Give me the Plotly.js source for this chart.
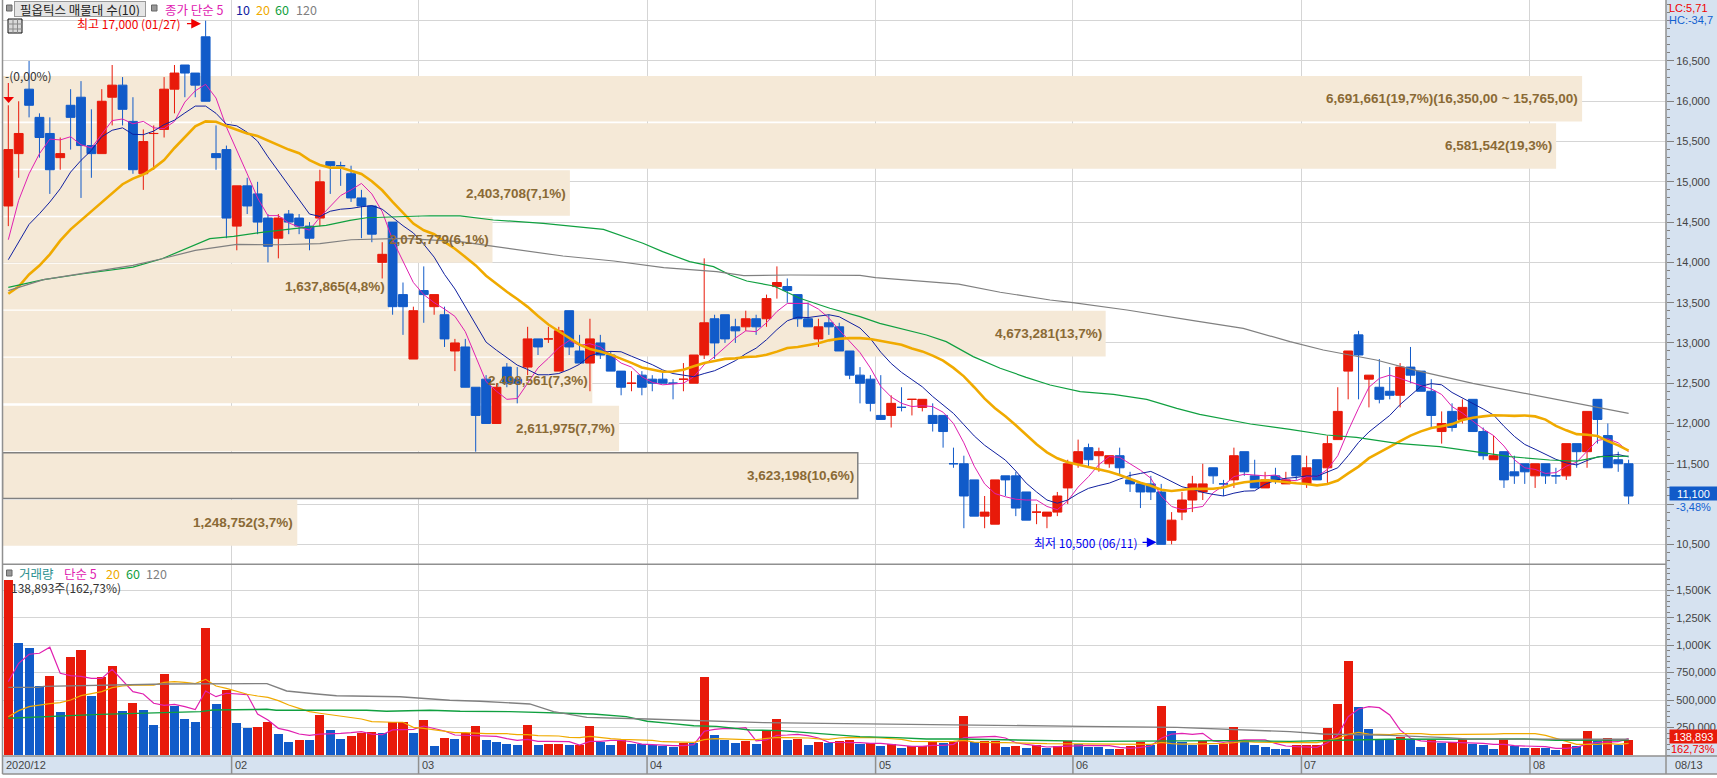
<!DOCTYPE html>
<html><head><meta charset="utf-8">
<script src="https://cdn.plot.ly/plotly-3.0.1.min.js"></script>
<style>html,body{margin:0;padding:0;background:#fff}#c{width:1717px;height:778px}</style>
</head><body><div id="c"></div>
<script>
const open_=[14700,15350,16150,15800,15600,15300,15950,16050,15450,15350,16050,16200,15750,15100,15599,15650,16150,16450,16350,16800,15350,15400,14450,14950,14850,14550,14300,14600,14550,14450,14550,15250,15201,15100,14800,14700,14000,14500,13600,12800,13650,13450,13350,12900,12950,12450,12550,12000,12700,12550,12700,13050,13049,12650,13400,12900,12750,13000,12850,12650,12499,12600,12550,12550,12501,12549,12500,12850,13300,13350,13200,13200,13300,13300,13700,13700,13600,13300,13050,13250,13200,12900,12600,12550,12100,12100,12201,12299,12200,12100,12100,11501,11500,11300,10850,10750,11350,11350,11150,10899,10850,10900,11200,11500,11700,11600,11500,11600,11300,11250,11250,11150,10550,10900,11050,11150,11450,11251,11300,11650,11350,11200,11350,11250,11600,11250,11550,11450,11800,12650,13100,12550,12450,12400,12350,12700,12650,12400,11900,12150,12050,12300,11900,11550,11650,11400,11500,11350,11500,11351,11350,11750,11650,12300,11850,11550,11500];
const high_=[15950,16000,16500,15850,15800,15550,16150,16250,15900,16150,16450,16300,16050,15650,15700,16300,16450,16450,16350,17000,15700,15450,14950,15050,15000,14600,14600,14650,14600,14500,15150,15250,15250,15200,14900,14700,14250,14500,13750,13450,13950,13600,13450,13050,13050,12450,12600,12500,12750,12700,13200,13050,13200,13200,13400,13100,13300,13100,12900,12650,12650,12650,12600,12650,12550,12750,12850,14050,13350,13350,13300,13400,13350,13600,13950,13800,13600,13500,13300,13350,13250,12900,12700,12600,12600,12350,12450,12300,12300,12250,12100,11700,11600,11300,11100,11300,11350,11400,11150,11000,10900,11150,11550,11800,11750,11700,11600,11700,11400,11250,11350,11250,10900,11150,11350,11500,11450,11300,11700,11650,11550,11400,11450,11400,11600,11600,11550,11850,12450,12900,13150,12600,12800,12700,12750,12950,12650,12550,12150,12250,12300,12300,11950,11850,11650,11600,11500,11500,11500,11450,11750,11750,12150,12300,12000,11650,11550];
const low_=[14450,15050,15800,15300,14850,15150,15400,14800,15050,15350,15700,15700,15100,14900,15150,15550,15850,16050,16050,16000,15150,14300,14150,14600,14350,14000,14050,14350,14350,14150,14450,14850,14950,14750,14300,14250,13800,13350,13100,12800,13250,13350,12950,12650,12450,11650,12000,12000,12450,12250,12600,12850,13000,12650,12850,12750,12400,12800,12650,12350,12400,12350,12400,12500,12300,12400,12500,12800,12800,13000,13000,13150,13100,13200,13550,13500,13200,13200,12950,13100,12900,12550,12250,12150,12050,11950,12150,12100,12150,11900,11700,11450,10700,10850,10700,10750,11100,10850,10800,10750,10700,10850,11000,11450,11450,11400,11450,11350,11150,10950,11050,10500,10500,10800,10900,11050,11250,11100,11200,11350,11200,11200,11250,11250,11300,11200,11300,11250,11800,12300,12300,12200,12250,12300,12200,12500,12400,11950,11750,11900,12000,11900,11550,11550,11200,11250,11250,11200,11250,11250,11300,11450,11450,11750,11450,11400,11000];
const close_=[15400,15600,15950,15550,15150,15350,15800,15450,15350,16000,16200,15900,15150,15500,15600,16150,16350,16350,16200,16000,15300,14550,14950,14700,14500,14200,14550,14500,14450,14300,15000,15200,15200,14800,14700,14350,14100,13450,13450,13400,13600,13600,13050,13000,12450,12100,12000,12450,12500,12500,13050,12950,13050,13150,12950,12750,13050,12850,12650,12450,12500,12450,12500,12500,12500,12550,12850,13250,13000,13050,13150,13300,13200,13550,13750,13650,13300,13200,13200,13200,12900,12600,12500,12250,12050,12250,12200,12300,12300,12000,11900,11500,11100,10850,10900,11300,11300,10950,10800,10900,10900,11100,11500,11650,11550,11650,11600,11450,11250,11150,11150,10500,10800,11050,11250,11250,11350,11250,11600,11400,11200,11300,11300,11300,11350,11450,11300,11750,12150,12900,12850,12600,12300,12350,12700,12600,12400,12100,12000,11950,12200,11900,11600,11600,11300,11350,11400,11500,11350,11350,11750,11650,12150,12050,11450,11500,11100];
const ma5=[14281,14770,15100,15349,15530,15520,15560,15460,15420,15590,15760,15780,15720,15750,15670,15660,15750,15990,16130,16210,16040,15680,15400,15100,14800,14580,14580,14490,14440,14400,14560,14690,14830,14900,14980,14850,14630,14280,14010,13750,13600,13500,13420,13330,13140,12840,12520,12400,12300,12310,12500,12690,12810,12940,13030,12970,12990,12950,12850,12750,12700,12580,12510,12480,12490,12500,12580,12730,12830,12940,13060,13150,13140,13250,13390,13490,13490,13490,13420,13310,13160,13020,12880,12690,12460,12330,12250,12210,12220,12210,12140,12000,11760,11470,11250,11130,11090,11060,11050,11050,10970,10930,11040,11210,11340,11490,11590,11580,11500,11420,11320,11100,10970,10930,10950,10970,11140,11230,11340,11370,11360,11350,11360,11300,11290,11340,11340,11430,11600,11910,12190,12450,12560,12600,12560,12510,12470,12430,12360,12210,12130,12030,11930,11850,11720,11550,11450,11430,11380,11390,11470,11520,11650,11790,11810,11760,11650];
const ma10=[14033,14252,14472,14604,14749,14914,15121,15266,15390,15560,15640,15670,15590,15585,15630,15710,15765,15855,15940,15940,15850,15715,15695,15615,15505,15310,15130,14945,14770,14600,14570,14635,14660,14670,14690,14705,14660,14555,14455,14365,14225,14065,13850,13670,13445,13220,13010,12910,12815,12725,12670,12605,12605,12620,12670,12735,12840,12880,12895,12890,12835,12785,12730,12665,12620,12600,12580,12620,12655,12715,12780,12865,12935,13040,13165,13275,13320,13315,13335,13350,13325,13255,13185,13055,12885,12745,12635,12545,12455,12335,12235,12125,11985,11845,11730,11635,11545,11410,11260,11150,11050,11010,11050,11130,11195,11230,11260,11310,11355,11380,11405,11345,11275,11215,11185,11145,11120,11100,11135,11160,11165,11245,11295,11320,11330,11350,11345,11395,11450,11600,11765,11895,11995,12100,12235,12350,12460,12495,12480,12385,12320,12250,12180,12105,11965,11840,11740,11680,11615,11555,11510,11485,11540,11585,11600,11615,11585];
const ma20=[13610,13700,13850,13960,14100,14270,14410,14520,14640,14740,14850,14970,15040,15090,15170,15270,15420,15560,15690,15750,15745,15692,15642,15600,15568,15510,15448,15400,15355,15270,15210,15175,15178,15142,15098,15008,14895,14750,14612,14482,14398,14350,14255,14170,14068,13962,13835,13732,13635,13545,13448,13335,13228,13145,13058,12978,12925,12895,12855,12808,12752,12695,12668,12642,12645,12668,12710,12750,12775,12802,12808,12825,12832,12852,12892,12938,12950,12968,12995,13032,13052,13060,13060,13048,13025,13010,12978,12930,12895,12842,12780,12690,12585,12450,12308,12190,12090,11978,11858,11742,11642,11568,11518,11488,11462,11432,11402,11360,11308,11265,11228,11178,11162,11172,11190,11188,11190,11205,11245,11270,11285,11295,11285,11268,11258,11248,11232,11248,11292,11380,11465,11570,11645,11710,11782,11850,11902,11945,11965,11992,12042,12072,12088,12102,12100,12095,12100,12088,12048,11970,11915,11868,11860,11845,11782,11728,11662];
const ma60x=[0,3.4,7.2,12,14.8,17.1,19.4,21.7,24.6,27.5,30.6,32.9,34.5,40.6,43.5,46.7,51.5,57.3,61.1,63,65.6,67.9,69.5,71.1,73.7,76.2,79.1,82,83.9,88.4,90.3,92.9,95.5,98,100.3,103.2,106.4,109.6,112.5,114.7,119.6,123.4,126.9,129.8,133.7,137.8,141.4,144.6,148.4,151,153.3,156];
const ma60y=[13690,13785,13859,13942,14045,14170,14294,14323,14376,14418,14459,14521,14554,14579,14576,14526,14485,14410,14237,14133,14009,13947,13843,13769,13707,13554,13430,13326,13243,13098,13016,12830,12685,12573,12478,12395,12362,12300,12188,12114,11994,11927,11857,11828,11754,11712,11642,11588,11547,11534,11588,11596];
const ma120x=[0,3.4,12,14.8,18,22,26,30,33,38,43.5,48.6,53.4,58.3,63.1,68.2,70.8,75.3,82,83.5,91.5,95.5,100.3,102.5,107.7,114.1,118.9,123.4,126.6,131.7,135.6,141,146.5,152.3,156];
const ma120y=[13650,13785,13963,14045,14149,14223,14219,14232,14281,14298,14257,14166,14079,14017,13935,13885,13835,13843,13839,13810,13731,13629,13533,13500,13409,13276,13181,13016,12912,12788,12656,12498,12362,12221,12126];
const volume=[1594,1020,975,628,720,392,893,956,537,710,811,401,474,410,273,738,446,328,301,1157,465,592,291,246,255,301,191,118,137,136,364,228,146,173,200,209,200,301,302,200,319,82,155,146,200,264,137,118,100,91,273,91,100,103,91,94,264,118,91,137,100,97,91,82,73,109,106,710,182,137,109,128,100,219,328,137,146,91,118,109,128,137,100,109,82,100,64,82,85,118,109,118,355,118,128,130,73,82,64,91,64,82,128,100,73,70,55,58,82,118,91,446,219,118,91,128,91,100,255,118,91,73,55,54,91,92,94,246,465,856,437,237,137,134,164,146,73,137,109,118,146,100,91,55,146,82,64,67,64,46,100,82,219,128,155,91,139];
const volMa5=[668,835,917,926,981,744,723,716,698,698,780,677,577,556,471,452,461,440,413,583,531,562,556,550,373,319,243,222,191,179,191,191,197,203,213,191,185,228,234,234,264,240,219,182,179,176,170,170,149,134,143,124,124,124,121,91,124,124,134,134,121,100,94,88,85,85,94,216,234,243,240,249,128,137,179,182,188,176,155,115,115,112,112,106,106,97,85,79,79,88,88,97,158,161,164,170,155,112,97,88,73,76,82,88,88,85,85,70,61,70,82,152,191,197,188,197,128,115,128,137,137,137,106,82,76,70,70,112,182,349,419,440,431,364,228,152,128,121,118,112,112,112,106,97,97,85,82,76,76,61,61,70,100,115,118,121,149];
const volMa20=[349,404,440,455,468,477,501,540,556,577,613,628,635,635,635,662,668,662,650,689,628,607,577,553,537,525,495,455,425,395,380,367,349,340,328,304,298,298,298,252,243,228,213,203,203,197,194,194,194,185,185,176,176,173,161,158,170,158,149,143,140,134,134,121,121,115,115,140,149,146,140,140,140,152,161,158,158,155,146,143,155,161,158,161,155,152,143,124,121,121,121,124,134,118,112,112,112,112,106,106,103,103,103,103,103,103,103,100,100,100,97,115,103,100,100,103,103,106,112,124,118,115,112,112,112,112,112,131,152,188,206,191,185,185,194,194,194,185,185,185,191,191,191,191,194,194,194,194,179,152,121,97,97,97,106,97,106];
const volMa60x=[0,8.8,18.5,19.7,24.9,25.8,34.5,36.4,40.6,43.5,48.3,50.2,52.5,56.3,59.5,61.5,63.7,66,68.2,71.4,74.3,78.2,82,85.5,88.4,91.6,98.5,104.5,117.3,123.4,128.2,133,145.9,149,156];
const volMa60y=[334,370,395,410,416,407,407,398,407,398,395,389,380,373,349,307,288,267,261,228,222,197,167,158,146,146,134,124,131,124,134,143,146,134,137];
const volMa120x=[0,2.9,3.4,8.8,15.2,24.9,26.8,29.7,31.6,37.7,40.6,42.5,45.4,50.2,52.5,55.7,61.5,65.6,68.5,72.7,78.5,82,85.5,95.5,103.5,112.5,120.5,123.4,126.6,133,138.5,140.4,156];
const volMa120y=[616,616,625,638,647,650,583,556,540,531,510,498,489,465,395,343,328,316,307,295,288,285,279,267,261,252,228,213,191,179,158,146,143];
const bandCenter=[16031,15445,14861,14278,13700,13116,12534,11938,11352,10767];
const bandValue=[6691661,6581542,2403708,2075779,1637865,4673281,2498561,2611975,3623198,1248752];
const bandLabel=['6,691,661(19,7%)(16,350,00 ~ 15,765,00)','6,581,542(19,3%)','2,403,708(7,1%)','2,075,779(6,1%)','1,637,865(4,8%)','4,673,281(13,7%)','2,498,561(7,3%)','2,611,975(7,7%)','3,623,198(10,6%)','1,248,752(3,7%)'];
const monthPos=[21.5,39.5,61.5,83.5,102.5,124.5,146.5];
const monthLabel=['02','03','04','05','06','07','08'];
const priceTicks=[10500,11000,11500,12000,12500,13000,13500,14000,14500,15000,15500,16000,16500,17000];
const priceLabels=['10,500','','11,500','12,000','12,500','13,000','13,500','14,000','14,500','15,000','15,500','16,000','16,500',''];
const volTicks=[250,500,750,1000,1250,1500];
const volLabels=['250,000','500,000','750,000','1,000K','1,250K','1,500K'];

const W=1717,H=778;
const px=x=>x/W, py=y=>1-y/H;
const RED='#E81A0A',BLUE='#115BC9',MAG='#E020B0',NAVY='#1020A0',ORG='#F0AA00',GRN='#10A040',GRY='#808080';
const SANS='"Liberation Sans",sans-serif';
const KR='"Noto Sans CJK KR",sans-serif';
const idx=close_.map((_,i)=>i);
const volColors=volume.map((v,i)=>(i===0||v>=volume[i-1])?RED:BLUE);
const xr=[-0.558,159.6];

const line=(x,y,c,w,xa,ya)=>({type:'scatter',mode:'lines',x,y,xaxis:xa,yaxis:ya,line:{color:c,width:w},hoverinfo:'skip',showlegend:false});
const traces=[
 {type:'bar',orientation:'h',y:bandCenter,x:bandValue,width:567,xaxis:'x',yaxis:'y',hoverinfo:'skip',
  marker:{color:'#F5E9D7',line:{color:bandValue.map((v,i)=>i===8?'#808080':'rgba(0,0,0,0)'),width:1.5}},showlegend:false},
 {type:'candlestick',x:idx,open:open_,high:high_,low:low_,close:close_,xaxis:'x2',yaxis:'y',whiskerwidth:0,hoverinfo:'skip',
  increasing:{line:{color:RED,width:1},fillcolor:RED},decreasing:{line:{color:BLUE,width:1},fillcolor:BLUE},showlegend:false},
 line(idx,ma5,MAG,1,'x2','y'),
 line(idx,ma10,NAVY,1,'x2','y'),
 line(idx,ma20,ORG,2.6,'x2','y'),
 line(ma60x,ma60y,GRN,1.2,'x2','y'),
 line(ma120x,ma120y,GRY,1.2,'x2','y'),
 {type:'bar',x:idx,y:volume,width:0.87,xaxis:'x3',yaxis:'y2',marker:{color:volColors,line:{width:0}},hoverinfo:'skip',showlegend:false},
 line(idx,volMa5,MAG,1.2,'x3','y2'),
 line(idx,volMa20,ORG,1.2,'x3','y2'),
 line(volMa60x,volMa60y,GRN,1.4,'x3','y2'),
 line(volMa120x,volMa120y,GRY,1.4,'x3','y2')
];

const T=(text,x,y,color,size,anchor,extra)=>Object.assign({xref:'paper',yref:'paper',x:px(x),y:py(y),text,showarrow:false,xanchor:anchor||'left',yanchor:'middle',font:{family:KR,size:size||12.5,color}},extra||{});
const S=(text,x,y,color,anchor,extra)=>T(text,x,y,color,11,anchor,Object.assign({font:{family:SANS,size:11,color}},extra||{}));
const ann=[];
bandValue.forEach((v,i)=>ann.push({xref:'x',yref:'y',x:v,y:bandCenter[i],text:bandLabel[i],showarrow:false,xanchor:'right',yanchor:'middle',xshift:-3,
  font:{family:SANS,size:13.5,color:'#8A6A35',weight:700},borderpad:0}));
ann.push(T('필옵틱스 매물대 수(10)',14,9,'#222',12.5,'left',{bgcolor:'#E5E5E5',bordercolor:'#999',borderwidth:1,borderpad:0,width:130,height:14,align:'center'}));
ann.push(T('종가 단순 5',163,9.5,MAG));
ann.push(T('10',234,9.5,NAVY));ann.push(T('20',254,9.5,ORG));ann.push(T('60',273,9.5,GRN));ann.push(T('120',294,9.5,GRY));
ann.push(T('최고 17,000 (01/27)',75,23,'#F00000',12));
ann.push({xref:'x2',yref:'y',x:18.55,y:17000,ax:-17,ay:0,axref:'pixel',ayref:'pixel',text:' ',showarrow:true,arrowhead:2,arrowsize:1.5,arrowwidth:1.3,arrowcolor:'#F00000',yshift:-3});
ann.push(T('최저 10,500 (06/11)',1032,542,'#0000F0',12));
ann.push({xref:'x2',yref:'y',x:110.55,y:10500,ax:-17,ay:0,axref:'pixel',ayref:'pixel',text:' ',showarrow:true,arrowhead:2,arrowsize:1.5,arrowwidth:1.3,arrowcolor:'#0000F0',yshift:2});
ann.push(T('-(0,00%)',3,75,'#333',12));
ann.push(T('거래량',17,573,'#2A9090'));ann.push(T('단순 5',62,573,MAG));ann.push(T('20',104,573,ORG));ann.push(T('60',124,573,GRN));ann.push(T('120',144,573,GRY));
ann.push(T('138,893주(162,73%)',9,587,'#333',12));
ann.push(S('LC:5,71',1667,7.5,'#F00000'));
ann.push(S('HC:-34,7',1667,20,'#1060D0'));
ann.push(S('11,100',1693.5,494,'#fff','center',{bgcolor:BLUE,width:47,height:13,borderpad:0}));
ann.push(S('-3,48%',1693,506.5,'#1060D0','center'));
ann.push(S('138,893',1693.5,736.5,'#fff','center',{bgcolor:RED,width:47,height:13,borderpad:0}));
ann.push(S('162,73%',1693,748.5,'#F00000','center'));
ann.push(S('2020/12',4,765,'#444'));
monthPos.forEach((m,i)=>ann.push({xref:'x3',yref:'paper',x:m,y:py(765),text:monthLabel[i],showarrow:false,xanchor:'left',yanchor:'middle',xshift:1,font:{family:SANS,size:11,color:'#444'}}));
ann.push(S('08/13',1673,765,'#444'));

const R=(x0,y0,x1,y1,fill,lc,lw,layer)=>({type:'rect',xref:'paper',yref:'paper',x0:px(x0),x1:px(x1),y0:py(y0),y1:py(y1),fillcolor:fill,line:{color:lc||'rgba(0,0,0,0)',width:lw||0},layer:layer||'below'});
const L=(x0,y0,x1,y1,c,w)=>({type:'line',xref:'paper',yref:'paper',x0:px(x0),x1:px(x1),y0:py(y0),y1:py(y1),line:{color:c||'#909090',width:w||1.5},layer:'above'});
const shapes=[
 R(1666,0,1717,774,'#D6E2F0'),
 R(2.5,756,1717,774,'#D6E2F0'),
 L(2.5,0,2.5,774),L(2.5,564.3,1666,564.3),L(2.5,756,1666,756),L(1666,0,1666,774),L(2.5,774,1717,774),L(1666,756,1717,756),
 R(8,19,22,33,'#D8D8D8','#111',1,'above'),
 L(8,24,22,24,'#888',1),L(8,29,22,29,'#888',1),L(13,19,13,33,'#888',1),L(17.5,19,17.5,33,'#888',1),
 R(6.5,5,12,11,'#999','#666',1,'above'),R(151.5,5,157,11,'#999','#666',1,'above'),R(6.5,570,12,576,'#999','#666',1,'above'),
 L(8.3,83,8.3,97,'#F00000',1),
 {type:'path',xref:'paper',yref:'paper',path:`M ${px(3.3)} ${py(97)} L ${px(14)} ${py(97)} L ${px(8.6)} ${py(103)} Z`,fillcolor:'#F00000',line:{width:0},layer:'above'}
];
monthPos.forEach(m=>shapes.push({type:'line',xref:'x3',yref:'paper',x0:m,x1:m,y0:py(756),y1:py(774),line:{color:'#909090',width:1.5},layer:'above'}));

const layout={width:W,height:H,autosize:false,margin:{l:0,r:0,t:0,b:0,pad:0},paper_bgcolor:'#fff',plot_bgcolor:'rgba(0,0,0,0)',showlegend:false,
 boxgap:0.15,boxgroupgap:0,bargap:0,hovermode:false,
 font:{family:SANS,size:11,color:'#444'},
 xaxis:{domain:[px(2.5),px(1666)],range:[0,7047000],visible:false,anchor:'y',fixedrange:true},
 xaxis2:{domain:[px(2.5),px(1666)],overlaying:'x',range:xr,anchor:'y',tickmode:'array',tickvals:monthPos,showticklabels:false,ticks:'',showgrid:true,gridcolor:'#D5D5D5',gridwidth:1,zeroline:false,showline:false,rangeslider:{visible:false},fixedrange:true},
 xaxis3:{domain:[px(2.5),px(1666)],range:xr,anchor:'y2',tickmode:'array',tickvals:monthPos,showticklabels:false,ticks:'',showgrid:true,gridcolor:'#D5D5D5',gridwidth:1,zeroline:false,showline:false,fixedrange:true},
 yaxis:{domain:[py(564.3),1],range:[10252,17257],side:'right',anchor:'x2',tickmode:'array',tickvals:priceTicks,ticktext:priceLabels,ticks:'outside',ticklen:7,tickcolor:'#808080',tickwidth:1,
   tickfont:{family:SANS,size:11,color:'#444'},showgrid:true,gridcolor:'#D5D5D5',gridwidth:1,zeroline:false,showline:false,fixedrange:true,
   minor:{dtick:100,tick0:10000,ticks:'outside',ticklen:3,tickcolor:'#808080',showgrid:false}},
 yaxis2:{domain:[py(756),py(564.3)],range:[-9,1736],side:'right',anchor:'x3',tickmode:'array',tickvals:volTicks,ticktext:volLabels,ticks:'outside',ticklen:7,tickcolor:'#808080',tickwidth:1,
   tickfont:{family:SANS,size:11,color:'#444'},showgrid:true,gridcolor:'#D5D5D5',gridwidth:1,zeroline:false,showline:false,fixedrange:true,
   minor:{dtick:50,tick0:0,ticks:'outside',ticklen:3,tickcolor:'#808080',showgrid:false}},
 annotations:ann,shapes:shapes
};
Plotly.newPlot('c',traces,layout,{staticPlot:true,displayModeBar:false});
</script></body></html>
